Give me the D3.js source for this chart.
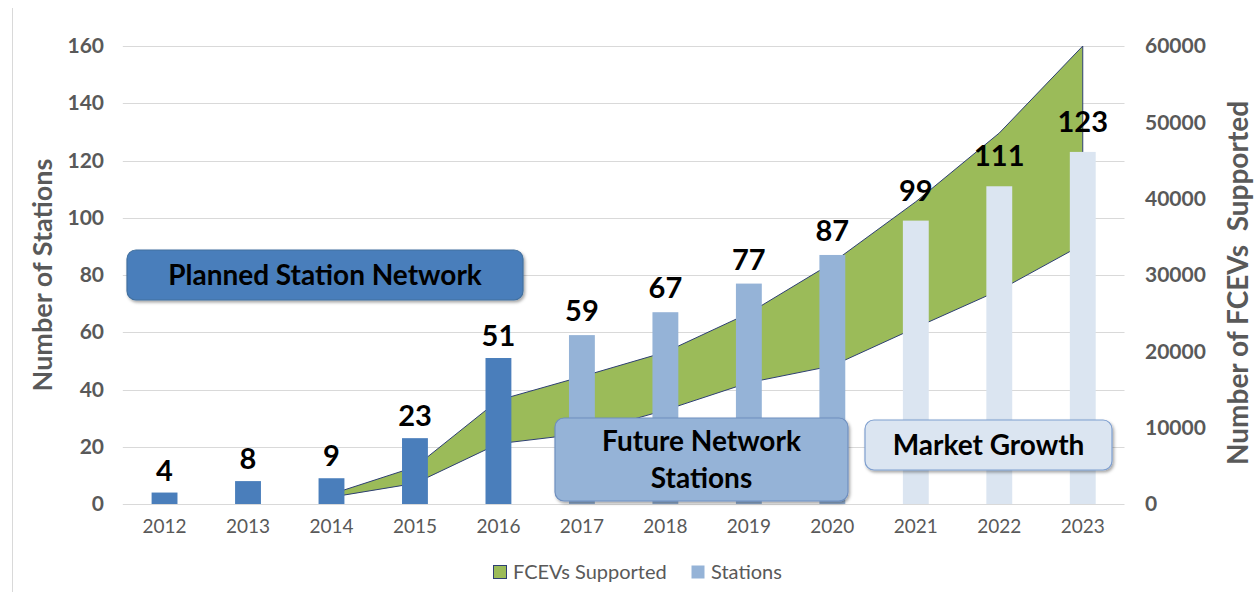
<!DOCTYPE html>
<html>
<head>
<meta charset="utf-8">
<script src="https://cdn.jsdelivr.net/npm/d3@7"></script>
<style>
    body { margin: 0; background: #fff; }
    svg { display: block; font-family: Lato, "Open Sans", sans-serif; }
</style>
</head>
<body>
<div id="chart"></div>
<script>
// station counts per year
const years = ['2012', '2013', '2014', '2015', '2016', '2017', '2018', '2019', '2020', '2021', '2022', '2023'];
const stations = [4, 8, 9, 23, 51, 59, 67, 77, 87, 99, 111, 123];
const phases = ['planned', 'planned', 'planned', 'planned', 'planned', 'future', 'future', 'future', 'future', 'market', 'market', 'market'];

// FCEVs supported (range band, right axis)
const fcevYears = ['2014', '2015', '2016', '2017', '2018', '2019', '2020', '2021', '2022', '2023'];
const fcevLow = [900, 2700, 7900, 9200, 12300, 15900, 18100, 23100, 28000, 34000];
const fcevHigh = [1300, 4850, 13600, 16700, 19900, 25000, 31600, 39600, 48600, 60000];

// axis ticks
const stationTicks = [0, 20, 40, 60, 80, 100, 120, 140, 160];
const fcevTicks = [0, 10000, 20000, 30000, 40000, 50000, 60000];

// legend entries
const legendLabels = ['FCEVs Supported', 'Stations'];

class StationChartCreator {
    constructor(element) {
        this.width = 1254;
        this.height = 592;
        this.wrapperElement = d3.select(element);
        this.gray = '#595959';
        this.barColors = { planned: '#4a7ebb', future: '#95b3d7', market: '#dbe5f1' };
        this.labelGap = { planned: 12, future: 14, market: 20 };
        return this;
    }

    /**
     * Builds scales and draws everything in order (area sits behind bars)
     */
    create() {
        this.canvas = this.wrapperElement.append('svg')
            .attr('width', this.width)
            .attr('height', this.height);

        this.addShadowFilter();

        this.x = d3.scaleBand()
            .domain(years)
            .range([122.8, 1124.5])
            .paddingInner(0.69)
            .paddingOuter(0.345);
        this.yLeft = d3.scaleLinear().domain([0, 160]).range([504, 46]);
        this.yRight = d3.scaleLinear().domain([0, 60000]).range([504, 46]);

        // thin frame line on the left
        this.canvas.append('line')
            .attr('x1', 12.5).attr('x2', 12.5)
            .attr('y1', 8).attr('y2', this.height)
            .attr('stroke', '#d9d9d9');

        this.addGrid();
        this.addArea();
        this.addBars();
        this.addAxes();
        this.addBoxes();
        this.addLegend();
        return this;
    }

    addShadowFilter() {
        this.canvas.append('defs').append('filter')
            .attr('id', 'shadow')
            .attr('x', '-10%').attr('y', '-20%')
            .attr('width', '120%').attr('height', '150%')
            .append('feDropShadow')
            .attr('dx', 1.5).attr('dy', 2)
            .attr('stdDeviation', 1.5)
            .attr('flood-color', '#000')
            .attr('flood-opacity', 0.35);
    }

    addGrid() {
        this.canvas.append('g')
            .selectAll('line')
            .data(stationTicks)
            .enter()
            .append('line')
            .attr('x1', this.x.range()[0])
            .attr('x2', this.x.range()[1])
            .attr('y1', (d) => Math.round(this.yLeft(d)) + 0.5)
            .attr('y2', (d) => Math.round(this.yLeft(d)) + 0.5)
            .attr('stroke', '#d9d9d9')
            .attr('stroke-width', 1);
    }

    addArea() {
        var bw = this.x.bandwidth();
        var rows = fcevYears.map((y, i) => ({ year: y, low: fcevLow[i], high: fcevHigh[i] }));
        var area = d3.area()
            .x((d) => this.x(d.year) + bw / 2)
            .y0((d) => this.yRight(d.low))
            .y1((d) => this.yRight(d.high));

        this.canvas.append('path')
            .datum(rows)
            .attr('d', (d) => area(d) + 'Z')
            .attr('fill', '#9bbb59')
            .attr('stroke', '#2e3f73')
            .attr('stroke-width', 1)
            .attr('stroke-linejoin', 'round');
    }

    addBars() {
        var rows = years.map((y, i) => ({ year: y, value: stations[i], phase: phases[i] }));
        var bars = this.canvas.append('g');

        bars.selectAll('rect')
            .data(rows)
            .enter()
            .append('rect')
            .attr('x', (d) => this.x(d.year))
            .attr('y', (d) => this.yLeft(d.value))
            .attr('width', this.x.bandwidth())
            .attr('height', (d) => this.yLeft(0) - this.yLeft(d.value))
            .attr('fill', (d) => this.barColors[d.phase]);

        bars.selectAll('text')
            .data(rows)
            .enter()
            .append('text')
            .attr('x', (d) => this.x(d.year) + this.x.bandwidth() / 2)
            .attr('y', (d) => this.yLeft(d.value) - this.labelGap[d.phase])
            .attr('text-anchor', 'middle')
            .attr('font-size', '29px')
            .attr('font-weight', 'bold')
            .attr('fill', '#000')
            .text((d) => d.value);
    }

    addAxes() {
        //LEFT
        var left = this.canvas.append('g')
            .attr('transform', 'translate(104,0)')
            .call(d3.axisLeft(this.yLeft).tickValues(stationTicks).tickSize(0).tickPadding(0));
        left.select('.domain').remove();
        left.selectAll('text')
            .attr('font-family', 'Lato, sans-serif')
            .attr('font-size', '21px')
            .attr('font-weight', 'bold')
            .attr('fill', this.gray);

        //RIGHT
        var right = this.canvas.append('g')
            .attr('transform', 'translate(1145,0)')
            .call(d3.axisRight(this.yRight).tickValues(fcevTicks).tickSize(0).tickPadding(0).tickFormat(d3.format('d')));
        right.select('.domain').remove();
        right.selectAll('text')
            .attr('font-family', 'Lato, sans-serif')
            .attr('font-size', '21px')
            .attr('font-weight', 'bold')
            .attr('fill', this.gray);

        //BOTTOM
        var bottom = this.canvas.append('g')
            .attr('transform', 'translate(0,504)')
            .call(d3.axisBottom(this.x).tickSize(0).tickPadding(16));
        bottom.select('.domain').remove();
        bottom.selectAll('text')
            .attr('font-family', 'Lato, sans-serif')
            .attr('font-size', '19px')
            .attr('fill', this.gray);

        //TITLES
        this.canvas.append('text')
            .attr('transform', 'translate(52,275) rotate(-90)')
            .attr('text-anchor', 'middle')
            .attr('font-size', '27px')
            .attr('font-weight', 'bold')
            .attr('fill', this.gray)
            .text('Number of Stations');

        this.canvas.append('text')
            .attr('transform', 'translate(1248,283) rotate(-90)')
            .attr('text-anchor', 'middle')
            .attr('font-size', '28px')
            .attr('font-weight', 'bold')
            .attr('fill', this.gray)
            .attr('xml:space', 'preserve')
            .style('white-space', 'pre')
            .text('Number of FCEVs  Supported');
    }

    addBoxes() {
        var boxes = [
            { x: 127, y: 250, w: 396, h: 50, fill: '#4a7ebb', stroke: '#41709f', lines: ['Planned Station Network'] },
            { x: 555, y: 418, w: 293, h: 83, fill: '#95b3d7', stroke: '#6f8fbf', lines: ['Future Network', 'Stations'] },
            { x: 865, y: 420, w: 247, h: 50, fill: '#dbe5f1', stroke: '#7f9fcf', lines: ['Market Growth'] }
        ];
        boxes.forEach((b) => {
            var g = this.canvas.append('g');
            g.append('rect')
                .attr('x', b.x).attr('y', b.y)
                .attr('width', b.w).attr('height', b.h)
                .attr('rx', 9).attr('ry', 9)
                .attr('fill', b.fill)
                .attr('stroke', b.stroke)
                .attr('stroke-width', 1.2)
                .attr('filter', 'url(#shadow)');
            var lineH = 37;
            var startY = b.y + b.h / 2 - (b.lines.length - 1) * lineH / 2;
            b.lines.forEach((t, i) => {
                g.append('text')
                    .attr('x', b.x + b.w / 2)
                    .attr('y', startY + i * lineH)
                    .attr('dy', '0.35em')
                    .attr('text-anchor', 'middle')
                    .attr('font-size', '28px')
                    .attr('font-weight', 'bold')
                    .attr('fill', '#000')
                    .text(t);
            });
        });
    }

    addLegend() {
        var items = [
            { label: legendLabels[0], x: 493, fill: '#9bbb59', stroke: '#2e3f73' },
            { label: legendLabels[1], x: 691, fill: '#95b3d7', stroke: 'none' }
        ];
        var g = this.canvas.append('g');
        items.forEach((it) => {
            g.append('rect')
                .attr('x', it.x + 0.5).attr('y', 565.5)
                .attr('width', 13).attr('height', 13)
                .attr('fill', it.fill)
                .attr('stroke', it.stroke);
            g.append('text')
                .attr('x', it.x + 20)
                .attr('y', 572)
                .attr('dy', '0.35em')
                .attr('font-size', '20px')
                .attr('fill', this.gray)
                .text(it.label);
        });
    }
}

new StationChartCreator('#chart').create();
</script>
</body>
</html>
